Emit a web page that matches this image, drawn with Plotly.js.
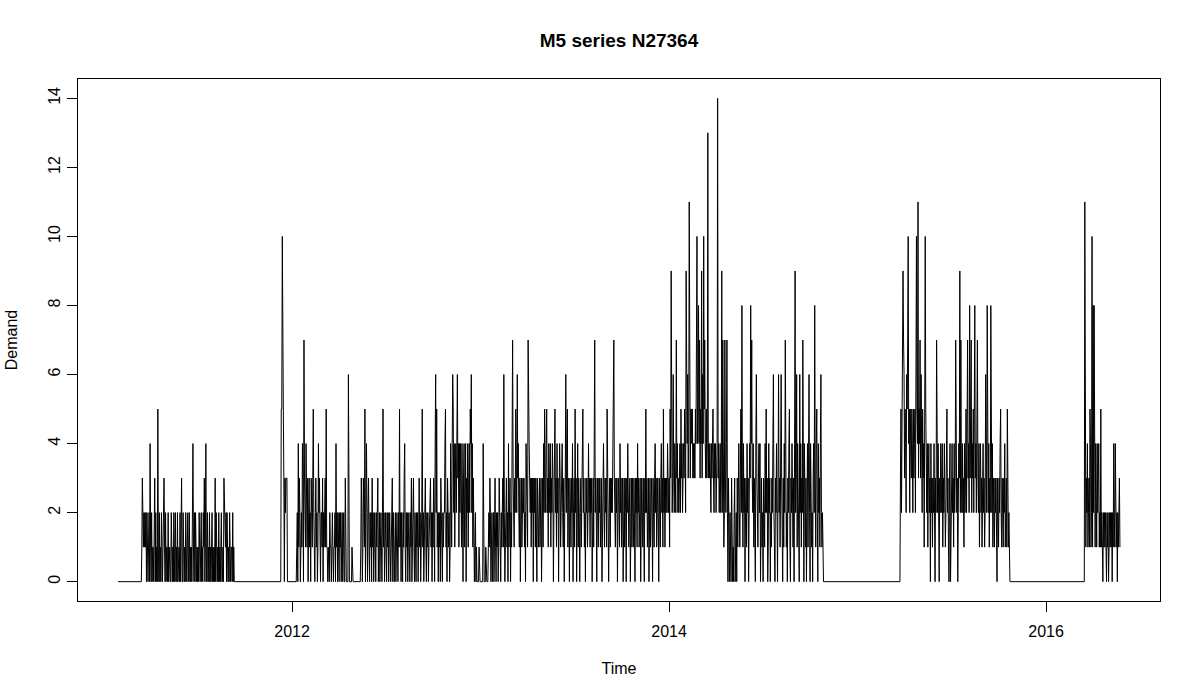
<!DOCTYPE html>
<html>
<head>
<meta charset="utf-8">
<script src="https://cdn.plot.ly/plotly-3.0.1.min.js"></script>
<style>
  html, body { margin: 0; padding: 0; background: #fff; }
  #chart { width: 1200px; height: 700px; }
</style>
</head>
<body>
<div id="chart"></div>
<script>
/* ─── M5 series N27364, daily demand ─────────────────────────────────────── */
// ts start (2011-01-29 as decimal year), frequency and length
const tsStart = 2011.0767;
const tsFreq = 365;
const seriesLength = 1941;

// days with no sales are zero; only the selling periods are listed.
// one hex digit per day (a = 10 ... e = 14)
const activeStart = [46, 316, 1515, 1872];

const demand2011 =
  "1321212120" + "2101204102" + "0110130201" + "0510201021" + "0123102011" +
  "0201100210" + "1020120102" + "0110201300" + "2101021012" + "0120101024" +
  "1020210101" + "0210120102" + "1301401201" + "0201012010" + "1030210102" +
  "0101200103" + "2212021010" + "2101102010";

const demand2012to2014 =
  "55a5530323" + "3300000000" + "0000000000" + "1204132012" + "1430732142" +
  "1302312032" + "1352102312" + "0142310221" + "3021231511" + "0110211012" +
  "1011204120" + "2102120120" + "1200300000" + "6000000100" + "0000000000" +
  "0000132013" + "2150241023" + "1021203120" + "1210212301" + "2012102512" +
  "0121021201" + "2101230210" + "1201210215" + "1202102134" + "1021201210" +
  "2130123102" + "1021201312" + "0125120123" + "1021201223" + "1202132046" +
  "2512021203" + "2102122451" + "2032120142" + "1465241342" + "4634142431" +
  "4203412403" + "2413425462" + "4132012010" + "0001000000" + "0400001000" +
  "0121320120" + "1202310212" + "0132102123" + "1620123120" + "4123021373" +
  "2132532634" + "2130231332" + "3120432174" + "4323132303" + "2313203212" +
  "3123023142" + "5324523143" + "2413243023" + "5231423024" + "3123421302" +
  "3624513203" + "2132402315" + "2302413202" + "3123523120" + "3231242313" +
  "2302313723" + "2032132312" + "3023421323" + "1523023132" + "3245732132" +
  "3023214231" + "2302313203" + "2431230231" + "3213203231" + "4231230232" +
  "1320325231" + "2302312320" + "3213423123" + "2032134231" + "5231323243" +
  "2315394236" + "3243273423" + "2342534234" + "3542974634" + "b435545343" +
  "43546a4584" + "73549364a5" + "743534d343" + "4324345324" + "34234e3423" +
  "4239273127" + "3247203102" + "1032010230" + "1203124213" + "5283142302" +
  "3142302438" + "4732413204" + "6321342402" + "3120321425" + "2301423021" +
  "3246210324" + "2036231463" + "2031427312" + "0324510324" + "2130492361" +
  "4320624132" + "7304213024" + "1362043120" + "3428314520" + "423146212";

const demand2015 =
  "3524797635" + "42657a4525" + "4354253452" + "6a54b35473" + "64253415a5" +
  "3241342304" + "2313242032" + "7324103243" + "2413243124" + "5231034023" +
  "4231423742" + "3024392732" + "4231423524" + "7342835724" + "3524834257" +
  "3241342312" + "4231263283" + "2413283241" + "3213231032" + "1324521321" +
  "3241231521" + "2";

const demand2016 =
  "b413241231" + "5412a18284" + "1431423412" + "1512102121" + "2102120121" +
  "2120214214" + "312021231";

const activeValues = [demand2011, demand2012to2014, demand2015, demand2016];

const xTicks = [2012, 2014, 2016];
const yTicks = [0, 2, 4, 6, 8, 10, 12, 14];

/* ─── build the series ───────────────────────────────────────────────────── */
const demand = new Array(seriesLength).fill(0);
activeValues.forEach((str, k) => {
  for (let i = 0; i < str.length; i++) demand[activeStart[k] + i] = parseInt(str[i], 16);
});
const time = demand.map((_, i) => tsStart + i / tsFreq);

// R pads the data range by 4% on each side
function padRange(lo, hi) {
  const d = (hi - lo) * 0.04;
  return [lo - d, hi + d];
}
const xRange = padRange(time[0], time[time.length - 1]);
const yRange = padRange(0, Math.max(...demand));

const FONT = "Liberation Sans, Arial, sans-serif";
const axisFont = { family: FONT, size: 16, color: "#000" };
const baseAxis = {
  showgrid: false, zeroline: false,
  showline: true, mirror: true, linecolor: "#000", linewidth: 1,
  ticks: "outside", ticklen: 10, tickwidth: 1, tickcolor: "#000",
  tickfont: axisFont,
};

const data = [{
  type: "scatter", mode: "lines",
  x: time, y: demand,
  line: { color: "#000", width: 1 },
  hoverinfo: "x+y",
}];

const layout = {
  width: 1200, height: 700,
  paper_bgcolor: "#fff", plot_bgcolor: "#fff",
  margin: { l: 78, r: 40, t: 79, b: 99 },
  showlegend: false,
  title: {
    text: "<b>M5 series N27364</b>",
    font: { family: FONT, size: 19, color: "#000" },
    x: 0.5, xref: "paper", xanchor: "center",
    y: 1 - 40 / 700, yref: "container", yanchor: "middle",
  },
  xaxis: Object.assign({}, baseAxis, {
    range: xRange, tickmode: "array", tickvals: xTicks, ticktext: xTicks.map(String),
    ticklabelstandoff: 6,
    title: { text: "Time", font: axisFont, standoff: 23 },
  }),
  yaxis: Object.assign({}, baseAxis, {
    range: yRange, tickmode: "array", tickvals: yTicks, ticktext: yTicks.map(String),
    tickangle: -90, ticklabelstandoff: 1,
    title: { text: "Demand", font: axisFont, standoff: 23 },
  }),
};

Plotly.newPlot("chart", data, layout, { displayModeBar: false, responsive: false });
</script>
</body>
</html>
